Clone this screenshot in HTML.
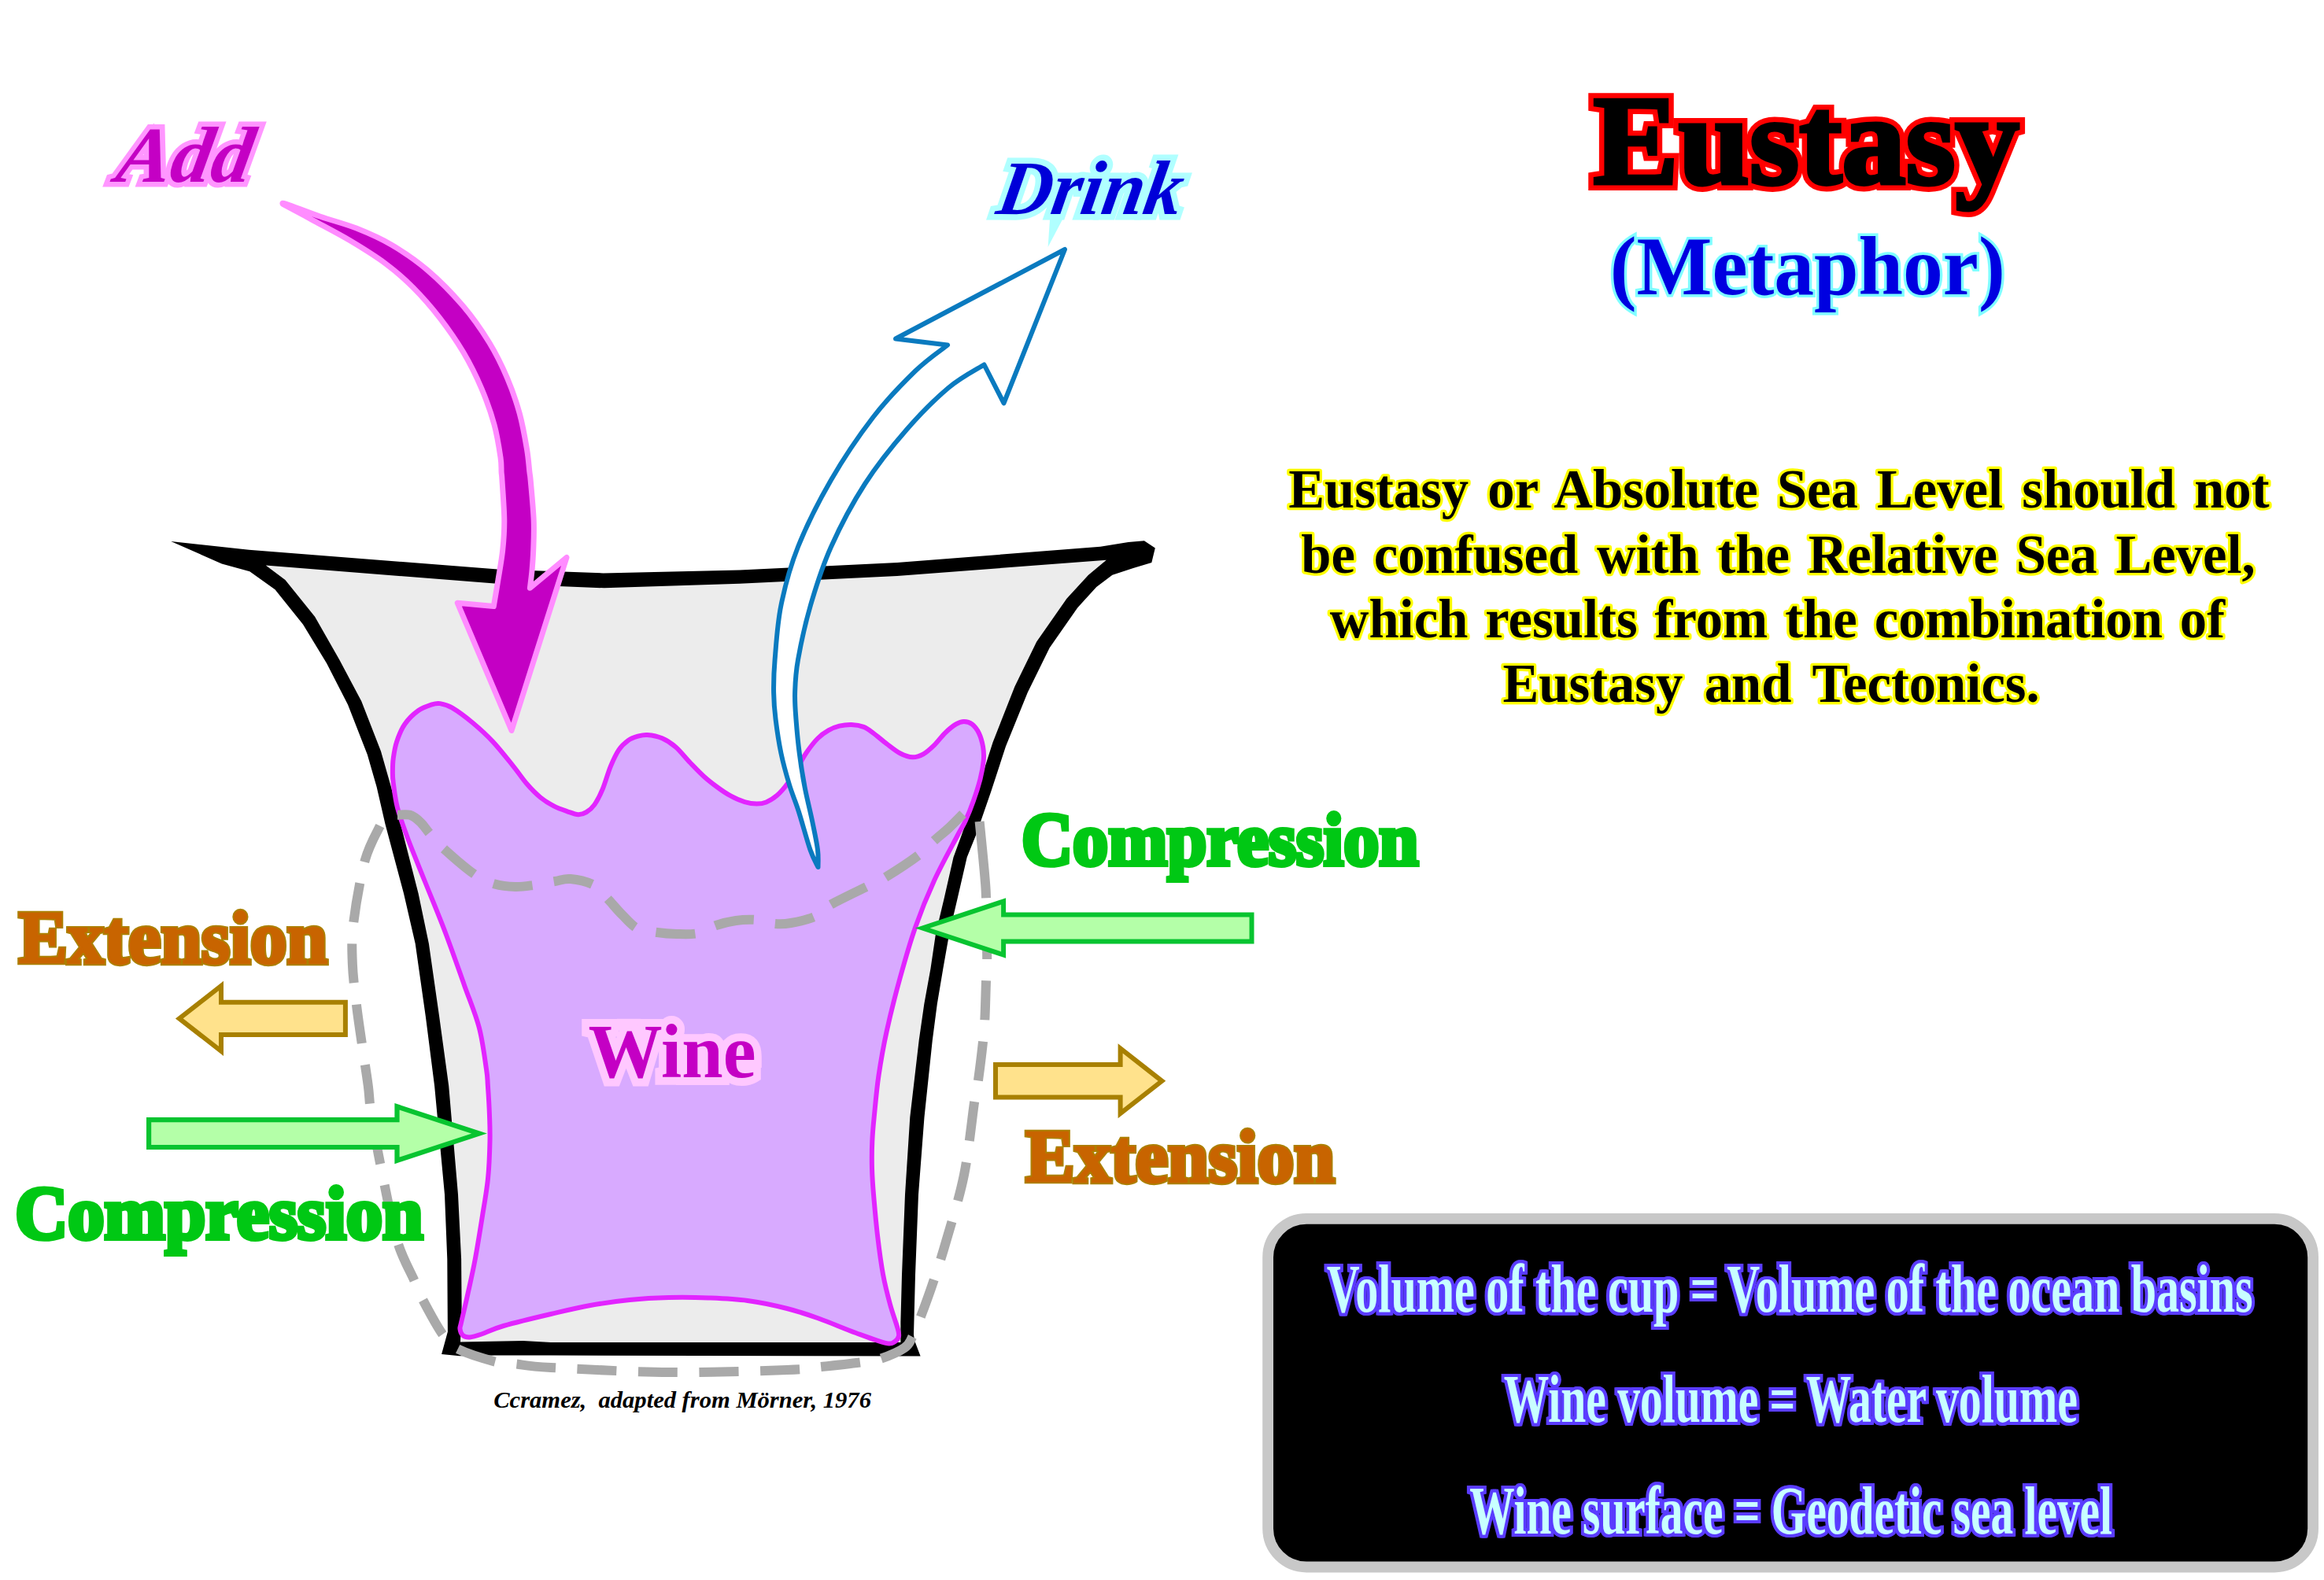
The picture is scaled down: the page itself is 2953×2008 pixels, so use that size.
<!DOCTYPE html>
<html><head><meta charset="utf-8"><title>Eustasy (Metaphor)</title>
<style>
html,body{margin:0;padding:0;background:#fff;}
body{width:2953px;height:2008px;overflow:hidden;font-family:"Liberation Serif",serif;}
svg{display:block;}
svg text{font-family:"Liberation Serif",serif;font-weight:bold;}
</style></head><body>
<svg width="2953" height="2008" viewBox="0 0 2953 2008">
<defs>
<filter id="glow" x="-2%" y="-20%" width="104%" height="140%"><feGaussianBlur in="SourceGraphic" stdDeviation="0.7"/></filter>
</defs>
<rect width="2953" height="2008" fill="#fff"/>

<path d="M217.2 688.0 L316.2 698.7 L632.4 723.5 L766.6 728.4 L940.0 724.6 L1140.0 715.0 L1398.2 694.8 L1433.7 689.0 L1453.9 687.2 L1467.8 696.6 L1463.3 715.0 L1440.0 721.9 L1413.4 730.8 L1393.2 745.9 L1369.1 772.5 L1333.7 823.2 L1305.8 880.1 L1278.0 948.5 L1259.0 1006.7 L1240.6 1060.0 L1228.7 1089.5 L1216.6 1142.0 L1206.3 1185.9 L1198.4 1230.8 L1190.8 1276.0 L1184.8 1321.9 L1174.5 1419.8 L1167.0 1518.0 L1163.0 1620.0 L1161.0 1696.0 L1162.0 1703.5 L1169.6 1723.5 L700.0 1722.6 L629.1 1722.6 L583.9 1723.2 L561.1 1721.0 L568.9 1692.5 L568.3 1600.0 L565.0 1518.0 L552.1 1380.0 L540.9 1292.3 L527.7 1199.2 L513.0 1135.4 L489.6 1047.7 L478.6 1000.0 L466.8 959.0 L442.0 895.6 L415.1 842.9 L385.0 793.4 L349.5 749.3 L317.3 726.3 L281.8 716.4 Z" fill="#000"/>
<path d="M337.7 718.5 L631.4 741.8 L767.8 747.3 L940.0 741.8 L1140.0 732.0 L1405.8 711.8 L1383.0 730.8 L1355.2 761.1 L1317.2 815.6 L1289.4 872.5 L1261.5 943.4 L1241.3 1006.7 L1228.6 1042.0 L1222.3 1060.0 L1211.5 1089.5 L1199.6 1142.0 L1189.1 1185.9 L1182.5 1230.8 L1174.3 1276.0 L1167.7 1321.9 L1156.3 1419.8 L1150.0 1518.0 L1146.0 1620.0 L1144.4 1680.0 L1144.4 1705.9 L700.0 1706.0 L664.6 1704.1 L585.0 1705.4 L586.6 1660.0 L586.1 1600.0 L582.0 1518.0 L570.2 1380.0 L558.2 1292.3 L544.9 1199.2 L531.6 1135.4 L507.7 1042.4 L496.9 1000.0 L484.0 954.8 L459.3 891.3 L431.3 838.6 L400.1 783.7 L362.4 737.0 Z" fill="#ececec"/>
<path d="M498.9 980.5 C498.9 975.3 498.9 969.6 499.8 963.3 C500.7 957.0 501.7 949.8 504.1 942.6 C506.5 935.4 509.8 926.8 514.4 920.2 C519.0 913.6 525.9 907.1 531.6 903.0 C537.3 898.9 544.2 896.8 548.8 895.3 C553.4 893.8 554.9 893.4 559.2 894.1 C563.5 894.8 567.8 895.5 574.7 899.6 C581.6 903.7 591.9 911.3 600.5 918.5 C609.1 925.7 617.7 933.4 626.3 942.6 C634.9 951.8 644.9 964.7 652.1 973.6 C659.3 982.5 663.6 989.4 669.3 996.0 C675.0 1002.6 680.8 1008.5 686.5 1013.2 C692.2 1017.9 698.0 1021.4 703.7 1024.4 C709.5 1027.4 715.8 1029.5 721.0 1031.3 C726.2 1033.1 730.7 1035.1 734.7 1035.2 C738.7 1035.3 741.7 1034.2 745.1 1032.1 C748.5 1030.0 752.0 1027.5 755.4 1022.6 C758.8 1017.7 762.3 1011.1 765.7 1002.9 C769.1 994.7 772.5 981.9 776.0 973.6 C779.5 965.3 782.7 958.4 786.4 952.9 C790.1 947.4 794.4 943.8 798.4 940.9 C802.4 938.0 806.5 936.9 810.5 935.7 C814.5 934.6 817.4 933.6 822.5 934.0 C827.6 934.4 835.4 935.7 841.4 938.3 C847.4 940.9 852.7 944.3 858.7 949.5 C864.7 954.7 871.2 963.3 877.2 969.5 C883.2 975.7 888.7 981.5 894.4 986.7 C900.1 991.9 905.9 996.3 911.6 1000.5 C917.3 1004.7 923.0 1008.6 928.8 1011.7 C934.5 1014.8 940.6 1017.5 946.1 1019.1 C951.6 1020.7 956.9 1021.5 961.5 1021.5 C966.1 1021.5 969.3 1021.2 973.6 1019.4 C977.9 1017.6 982.8 1014.8 987.4 1010.8 C992.0 1006.8 996.5 1001.6 1001.1 995.3 C1005.7 989.0 1010.9 979.5 1014.9 972.9 C1018.9 966.3 1021.2 961.4 1025.2 955.7 C1029.2 950.0 1034.4 943.1 1039.0 938.5 C1043.6 933.9 1048.2 930.8 1052.8 928.2 C1057.4 925.6 1061.6 923.9 1066.5 922.7 C1071.4 921.5 1076.8 920.8 1082.0 921.0 C1087.2 921.2 1092.9 922.1 1097.5 923.9 C1102.1 925.7 1104.7 928.0 1109.6 931.6 C1114.5 935.2 1121.1 941.1 1126.8 945.4 C1132.5 949.7 1138.5 954.7 1144.0 957.5 C1149.5 960.3 1154.6 962.2 1159.5 962.3 C1164.4 962.4 1168.7 960.8 1173.3 958.3 C1177.9 955.8 1182.4 951.5 1187.0 947.1 C1191.6 942.7 1196.2 936.1 1200.8 931.6 C1205.4 927.1 1210.6 922.8 1214.6 920.4 C1218.6 918.0 1221.5 917.0 1224.9 917.0 C1228.3 917.0 1232.1 918.0 1235.2 920.4 C1238.3 922.8 1241.5 926.9 1243.8 931.6 C1246.1 936.3 1248.0 943.0 1249.0 948.8 C1250.0 954.5 1250.4 959.2 1249.8 966.1 C1249.2 973.0 1247.7 981.6 1245.5 990.2 C1243.3 998.8 1240.1 1008.8 1236.9 1017.7 C1233.8 1026.6 1230.0 1036.1 1226.6 1043.5 C1223.2 1050.9 1223.2 1049.4 1216.6 1062.0 C1210.0 1074.6 1195.9 1099.8 1187.0 1119.2 C1178.1 1138.6 1170.3 1157.9 1163.1 1178.4 C1155.9 1198.9 1149.9 1220.2 1143.8 1242.2 C1137.7 1264.2 1131.3 1289.6 1126.7 1310.5 C1122.1 1331.4 1119.1 1349.3 1116.4 1367.5 C1113.7 1385.7 1112.1 1406.0 1110.7 1419.8 C1109.3 1433.5 1108.8 1439.1 1108.3 1450.0 C1107.8 1460.9 1107.7 1473.7 1108.0 1485.0 C1108.3 1496.3 1108.8 1503.8 1110.0 1518.0 C1111.2 1532.2 1113.0 1553.0 1115.0 1570.0 C1117.0 1587.0 1119.4 1605.3 1122.1 1620.0 C1124.8 1634.7 1128.0 1646.6 1131.1 1658.0 C1134.2 1669.4 1138.8 1681.6 1140.6 1688.3 C1142.4 1695.0 1142.6 1695.2 1142.0 1698.0 C1141.4 1700.8 1139.8 1703.5 1137.0 1705.0 C1134.2 1706.5 1133.7 1708.7 1125.4 1706.9 C1117.2 1705.1 1101.7 1699.2 1087.5 1694.0 C1073.3 1688.8 1054.6 1680.7 1040.0 1675.5 C1025.4 1670.3 1015.0 1666.8 1000.0 1663.0 C985.0 1659.2 966.7 1655.2 950.0 1653.0 C933.3 1650.8 916.7 1650.2 900.0 1649.5 C883.3 1648.8 866.7 1648.6 850.0 1649.0 C833.3 1649.4 816.7 1650.3 800.0 1652.0 C783.3 1653.7 766.7 1656.0 750.0 1659.0 C733.3 1662.0 718.4 1665.7 700.0 1670.0 C681.6 1674.3 654.6 1680.8 639.9 1685.0 C625.2 1689.2 619.2 1693.1 612.0 1695.5 C604.8 1697.9 600.8 1699.2 596.8 1699.5 C592.8 1699.8 590.0 1698.8 588.0 1697.0 C586.0 1695.2 584.8 1691.7 584.5 1689.0 C584.2 1686.3 584.4 1688.4 586.1 1680.7 C587.8 1673.0 591.8 1656.5 594.7 1643.0 C597.7 1629.5 600.8 1616.3 603.8 1600.0 C606.8 1583.7 610.3 1562.0 613.0 1545.0 C615.7 1528.0 618.4 1513.8 620.0 1498.0 C621.6 1482.2 622.2 1463.3 622.5 1450.0 C622.8 1436.7 622.4 1429.7 622.0 1418.0 C621.6 1406.3 620.6 1389.9 619.9 1380.0 C619.2 1370.1 619.9 1371.1 618.0 1358.7 C616.1 1346.3 613.4 1323.3 608.7 1305.6 C604.1 1287.9 597.2 1272.3 590.1 1252.4 C583.0 1232.5 574.6 1208.2 566.2 1186.0 C557.8 1163.8 547.6 1139.5 539.6 1119.5 C531.6 1099.5 524.2 1081.8 518.4 1066.3 C512.6 1050.8 508.1 1038.5 505.0 1026.5 C501.9 1014.5 500.7 1002.3 499.7 994.6 C498.7 986.9 498.9 985.7 498.9 980.5 Z" fill="#d8aaff" stroke="#e224ff" stroke-width="6" stroke-linejoin="round"/>
<path id="dinner" d="M505.0 1035.8 C507.7 1035.8 516.1 1034.3 521.0 1035.8 C525.9 1037.3 530.1 1041.0 534.3 1045.0 C538.5 1049.0 541.2 1053.9 546.3 1059.7 C551.4 1065.5 555.4 1071.0 564.9 1079.6 C574.4 1088.2 592.8 1104.2 603.4 1111.5 C614.0 1118.8 620.1 1120.9 628.7 1123.5 C637.3 1126.1 647.0 1126.8 655.0 1127.0 C663.0 1127.2 668.7 1126.2 677.0 1125.0 C685.3 1123.8 697.0 1121.3 705.0 1120.0 C713.0 1118.7 716.7 1116.2 725.0 1117.0 C733.3 1117.8 747.2 1120.8 755.0 1125.0 C762.8 1129.2 766.2 1135.8 772.0 1142.0 C777.8 1148.2 783.7 1155.7 790.0 1162.0 C796.3 1168.3 802.5 1176.2 810.0 1180.0 C817.5 1183.8 826.7 1183.8 835.0 1185.0 C843.3 1186.2 851.3 1186.8 860.0 1187.0 C868.7 1187.2 878.7 1187.8 887.0 1186.0 C895.3 1184.2 902.0 1178.7 910.0 1176.0 C918.0 1173.3 926.7 1171.2 935.0 1170.0 C943.3 1168.8 951.7 1168.3 960.0 1169.0 C968.3 1169.7 977.5 1173.3 985.0 1174.0 C992.5 1174.7 996.7 1174.5 1005.0 1173.0 C1013.3 1171.5 1026.7 1168.8 1035.0 1165.0 C1043.3 1161.2 1043.3 1156.7 1055.0 1150.0 C1066.7 1143.3 1093.3 1130.8 1105.0 1125.0 C1116.7 1119.2 1114.7 1121.3 1125.0 1115.0 C1135.3 1108.7 1156.5 1094.9 1167.0 1087.0 C1177.5 1079.1 1181.5 1073.3 1188.0 1067.5 C1194.5 1061.7 1200.1 1057.5 1206.0 1052.0 C1211.9 1046.5 1220.6 1037.5 1223.5 1034.6" fill="none" stroke="#a9a9a9" stroke-width="12" stroke-dasharray="50 27.5"/>
<path id="douter" d="M1244.6 1044.0 C1245.0 1048.0 1246.2 1060.1 1247.0 1068.0 C1247.8 1075.9 1248.5 1083.5 1249.3 1091.5 C1250.0 1099.5 1250.9 1107.8 1251.5 1116.0 C1252.1 1124.2 1252.5 1124.0 1253.0 1140.8 C1253.5 1157.6 1254.2 1199.4 1254.2 1217.1 C1254.2 1234.8 1253.5 1233.4 1253.0 1246.7 C1252.5 1260.0 1252.0 1283.9 1251.3 1296.8 C1250.6 1309.7 1250.4 1311.3 1249.0 1324.2 C1247.6 1337.1 1244.6 1361.8 1242.8 1374.3 C1241.0 1386.8 1241.3 1379.5 1238.3 1399.3 C1235.3 1419.1 1231.0 1463.2 1225.0 1493.0 C1219.0 1522.8 1208.4 1555.7 1202.0 1578.0 C1195.6 1600.3 1192.0 1610.7 1186.7 1626.6 C1181.4 1642.5 1174.6 1661.1 1170.0 1673.2 C1165.4 1685.3 1162.6 1692.7 1159.1 1699.3 C1155.6 1705.9 1155.9 1708.4 1149.2 1713.0 C1142.5 1717.6 1128.2 1723.7 1118.8 1726.8 C1109.4 1729.9 1105.5 1729.8 1092.7 1731.5 C1079.9 1733.2 1057.4 1735.6 1041.9 1737.2 C1026.5 1738.8 1032.0 1739.9 1000.0 1741.0 C968.0 1742.1 900.0 1744.5 850.0 1744.0 C800.0 1743.5 732.5 1739.8 700.0 1738.0 C667.5 1736.2 666.6 1734.6 654.9 1733.4 C643.2 1732.2 642.0 1733.9 629.6 1730.7 C617.2 1727.5 591.9 1719.8 580.7 1714.0 C569.5 1708.2 569.7 1706.2 562.4 1695.8 C555.1 1685.4 543.1 1663.0 537.1 1651.6 C531.1 1640.2 531.8 1639.7 526.4 1627.4 C521.0 1615.1 511.6 1599.6 505.0 1578.0 C498.4 1556.4 492.5 1524.7 487.0 1498.0 C481.5 1471.3 475.2 1437.7 472.0 1418.0 C468.8 1398.3 469.8 1395.2 467.8 1380.0 C465.8 1364.8 462.3 1343.6 459.9 1326.8 C457.5 1310.0 455.2 1295.8 453.2 1279.0 C451.2 1262.2 448.6 1243.5 447.9 1225.8 C447.2 1208.1 446.5 1194.8 449.2 1172.7 C451.9 1150.6 458.1 1113.8 463.9 1093.0 C469.7 1072.2 480.5 1055.2 483.8 1047.7" fill="none" stroke="#a9a9a9" stroke-width="12" stroke-dasharray="97.7 27.5 50 27.5 50 27.5 50 27.5 50 27.5 50 27.5 50 27.5 50 27.5 50 27.5 50 27.5 50 27.5 50 27.5 50 27.5 50 27.5 50 27.5 50 27.5 50 27.5 50 27.5 50 27.5 50 27.5 50 27.5 50 27.5 50 27.5 50 27.5 50 27.5 50 27.5 50 27.5 50 27.5 50 27.5 50 27.5 50 27.5 50 27.5 50 27.5 50 27.5 50 27.5"/>
<path d="M359.5 259.4 C360.2 259.4 355.9 256.8 363.9 259.4 C371.8 262.0 392.4 270.2 407.2 275.3 C422.0 280.4 437.7 284.1 452.8 290.1 C467.9 296.1 482.7 302.5 497.7 311.3 C512.7 320.1 527.8 330.2 542.8 343.0 C557.8 355.8 574.7 372.9 587.9 388.3 C601.1 403.7 612.3 420.1 621.8 435.5 C631.2 450.9 638.2 465.6 644.6 480.6 C651.0 495.6 656.1 510.7 660.3 525.7 C664.4 540.7 667.4 558.4 669.5 570.8 C671.6 583.2 672.1 593.4 672.9 600.0 C673.7 606.6 673.3 600.4 674.2 610.6 C675.1 620.8 677.6 646.5 678.2 661.3 C678.8 676.1 678.1 688.6 677.7 699.2 C677.3 709.8 676.7 717.0 676.0 725.0 C675.3 733.0 673.8 743.6 673.4 747.3 L720.0 708.5 L650.0 928.5 L581.3 766.3 L627.3 770.6 C628.2 765.0 631.0 749.1 632.9 737.2 C634.8 725.3 637.4 711.9 638.7 699.2 C640.0 686.6 640.9 676.1 640.8 661.3 C640.7 646.5 638.6 620.8 638.0 610.6 C637.4 600.4 637.4 604.9 637.1 600.0 C636.8 595.1 637.5 591.4 636.0 581.3 C634.5 571.2 632.0 554.2 628.0 539.6 C624.0 525.0 618.3 508.9 611.8 493.6 C605.3 478.3 597.6 462.7 588.8 447.8 C580.0 432.9 569.7 418.1 559.0 404.3 C548.3 390.5 536.1 376.6 524.6 365.1 C513.1 353.6 503.5 345.1 490.1 335.2 C476.7 325.3 459.6 314.7 444.4 305.6 C429.2 296.5 412.9 288.3 398.8 280.6 C384.7 272.9 366.1 262.9 359.5 259.4 Z" fill="#c400c4" stroke="#ff8cff" stroke-width="7" stroke-linejoin="round"/>
<path d="M1039.5 1102.0 C1037.8 1098.3 1033.6 1091.8 1029.5 1080.0 C1025.4 1068.2 1019.3 1045.3 1014.9 1031.5 C1010.5 1017.7 1006.6 1009.3 1002.9 997.0 C999.2 984.7 995.4 971.3 992.5 957.5 C989.6 943.7 987.2 927.3 985.6 914.4 C984.0 901.5 983.3 892.6 983.1 880.0 C982.9 867.4 983.0 857.0 984.6 838.5 C986.2 820.0 987.6 792.9 992.5 769.0 C997.4 745.1 1003.4 721.5 1014.0 695.0 C1024.6 668.5 1040.1 637.5 1056.0 610.0 C1071.9 582.5 1091.8 553.1 1109.6 530.0 C1127.4 506.9 1147.3 486.8 1163.0 471.5 C1178.7 456.2 1197.2 444.0 1204.0 438.5 L1138.0 430.5 L1353.0 317.0 L1275.5 512.4 L1250.5 463.5 C1242.9 468.4 1221.4 479.2 1205.0 493.0 C1188.6 506.8 1169.7 525.7 1152.0 546.0 C1134.3 566.3 1115.0 590.2 1099.0 615.0 C1083.0 639.8 1067.5 669.3 1056.0 695.0 C1044.5 720.7 1037.0 745.1 1030.0 769.0 C1023.0 792.9 1017.3 820.0 1014.0 838.5 C1010.7 857.0 1010.5 867.4 1010.1 880.0 C1009.7 892.6 1010.5 901.5 1011.5 914.4 C1012.5 927.3 1013.9 943.1 1015.8 957.5 C1017.6 971.9 1019.9 986.2 1022.6 1000.5 C1025.3 1014.8 1029.4 1030.2 1032.1 1043.5 C1034.8 1056.8 1037.8 1070.2 1039.0 1080.0 C1040.2 1089.8 1039.4 1098.3 1039.5 1102.0 Z" fill="#fff" stroke="#0a7abf" stroke-width="6" stroke-linejoin="round"/>
<path d="M1590.5 1162.5 L1275.1 1162.5 L1275.1 1145.5 L1172.3 1179.5 L1275.1 1213.5 L1275.1 1196.5 L1590.5 1196.5 Z" fill="#b4ffa8" stroke="#08c430" stroke-width="6"/>
<path d="M189.1 1423.1999999999998 L504.5 1423.1999999999998 L504.5 1406.3 L608.9 1440.6 L504.5 1474.8999999999999 L504.5 1458.0 L189.1 1458.0 Z" fill="#b4ffa8" stroke="#08c430" stroke-width="6.2"/>
<path d="M1265 1353.1 L1423.6 1353.1 L1423.6 1332.3999999999999 L1476.4 1373.8 L1423.6 1415.2 L1423.6 1394.5 L1265 1394.5 Z" fill="#ffe28c" stroke="#a88000" stroke-width="6"/>
<path d="M438.9 1273.7 L281 1273.7 L281 1253.0 L227.8 1294.4 L281 1335.8000000000002 L281 1315.1000000000001 L438.9 1315.1000000000001 Z" fill="#ffe28c" stroke="#a88000" stroke-width="6"/>
<rect x="1611.1" y="1548.9" width="1328" height="442.6" rx="49" ry="49" fill="#000" stroke="#c8c8c8" stroke-width="13.8"/>
<path d="M1334 279 L1350 279 L1331.6 314 Z" fill="#b0ffff"/>
<rect x="784" y="1294.8" width="30" height="15" fill="#ffc8ff"/>
<text transform="translate(144.74 230.90) scale(1.0177 1) skewX(-10)" font-size="100.92" font-style="italic" xml:space="preserve" fill="#c400c4" stroke="#ff96ff" stroke-width="13" paint-order="stroke" stroke-linejoin="miter">Add</text>
<text transform="translate(1263.68 271.90) scale(0.9789 1) skewX(-10)" font-size="97.86" font-style="italic" xml:space="preserve" fill="#0000d8" stroke="#b0ffff" stroke-width="15" paint-order="stroke" stroke-linejoin="miter">Drink</text>
<text transform="translate(747.59 1369.00) scale(0.9601 1)" font-size="98.15" xml:space="preserve" fill="#c400c4" stroke="#ffc8ff" stroke-width="20" paint-order="stroke" stroke-linejoin="miter">Wine</text>
<text transform="translate(2024.57 233.10) scale(1.0019 1)" font-size="161.98" xml:space="preserve" fill="#ff0000" stroke="#ff0000" stroke-width="18" stroke-linejoin="miter">Eustasy</text>
<text transform="translate(2024.57 233.10) scale(1.0019 1)" font-size="161.98" xml:space="preserve" fill="#000" stroke="#000" stroke-width="5" stroke-linejoin="miter">Eustasy</text>
<text transform="translate(2045.73 373.70) scale(0.9654 1)" font-size="105.23" xml:space="preserve" fill="#0000e0" stroke="#80ffff" stroke-width="7" paint-order="stroke" stroke-linejoin="miter">(Metaphor)</text>
<text transform="translate(1637.27 645.30) scale(0.9950 1)" font-size="69.01" style="word-spacing:7.04px" xml:space="preserve" fill="#ffff00" stroke="#ffff00" stroke-width="6.6" stroke-linejoin="round" filter="url(#glow)">Eustasy or Absolute Sea Level should not</text>
<text transform="translate(1637.27 645.30) scale(0.9950 1)" font-size="69.01" style="word-spacing:7.04px" xml:space="preserve" fill="#000">Eustasy or Absolute Sea Level should not</text>
<text transform="translate(1653.37 727.50) scale(0.9950 1)" font-size="69.01" style="word-spacing:6.63px" xml:space="preserve" fill="#ffff00" stroke="#ffff00" stroke-width="6.6" stroke-linejoin="round" filter="url(#glow)">be confused with the Relative Sea Level,</text>
<text transform="translate(1653.37 727.50) scale(0.9950 1)" font-size="69.01" style="word-spacing:6.63px" xml:space="preserve" fill="#000">be confused with the Relative Sea Level,</text>
<text transform="translate(1689.86 810.20) scale(0.9950 1)" font-size="69.01" style="word-spacing:4.84px" xml:space="preserve" fill="#ffff00" stroke="#ffff00" stroke-width="6.6" stroke-linejoin="round" filter="url(#glow)">which results from the combination of</text>
<text transform="translate(1689.86 810.20) scale(0.9950 1)" font-size="69.01" style="word-spacing:4.84px" xml:space="preserve" fill="#000">which results from the combination of</text>
<text transform="translate(1909.47 892.00) scale(0.9950 1)" font-size="69.01" style="word-spacing:10.21px" xml:space="preserve" fill="#ffff00" stroke="#ffff00" stroke-width="6.6" stroke-linejoin="round" filter="url(#glow)">Eustasy and Tectonics.</text>
<text transform="translate(1909.47 892.00) scale(0.9950 1)" font-size="69.01" style="word-spacing:10.21px" xml:space="preserve" fill="#000">Eustasy and Tectonics.</text>
<text transform="translate(1684.40 1666.60) scale(0.6708 1)" font-size="86.50" xml:space="preserve" fill="#5a3cff" stroke="#5a3cff" stroke-width="8" stroke-linejoin="miter">Volume of the cup = Volume of the ocean basins</text>
<text transform="translate(1685.72 1666.60) scale(0.6708 1)" font-size="86.50" xml:space="preserve" fill="#5a3cff" stroke="#5a3cff" stroke-width="8" stroke-linejoin="miter">Volume of the cup = Volume of the ocean basins</text>
<text transform="translate(1687.04 1666.60) scale(0.6708 1)" font-size="86.50" xml:space="preserve" fill="#5a3cff" stroke="#5a3cff" stroke-width="8" stroke-linejoin="miter">Volume of the cup = Volume of the ocean basins</text>
<text transform="translate(1685.72 1666.60) scale(0.6708 1)" font-size="86.50" xml:space="preserve" fill="#c8ffff">Volume of the cup = Volume of the ocean basins</text>
<text transform="translate(1909.50 1806.50) scale(0.6652 1)" font-size="86.50" xml:space="preserve" fill="#5a3cff" stroke="#5a3cff" stroke-width="8" stroke-linejoin="miter">Wine volume = Water</text>
<text transform="translate(1910.84 1806.50) scale(0.6652 1)" font-size="86.50" xml:space="preserve" fill="#5a3cff" stroke="#5a3cff" stroke-width="8" stroke-linejoin="miter">Wine volume = Water</text>
<text transform="translate(1912.18 1806.50) scale(0.6652 1)" font-size="86.50" xml:space="preserve" fill="#5a3cff" stroke="#5a3cff" stroke-width="8" stroke-linejoin="miter">Wine volume = Water</text>
<text transform="translate(1910.84 1806.50) scale(0.6652 1)" font-size="86.50" xml:space="preserve" fill="#c8ffff">Wine volume = Water</text>
<text transform="translate(2458.58 1806.50) scale(0.6693 1)" font-size="86.50" xml:space="preserve" fill="#5a3cff" stroke="#5a3cff" stroke-width="8" stroke-linejoin="miter">volume</text>
<text transform="translate(2459.90 1806.50) scale(0.6693 1)" font-size="86.50" xml:space="preserve" fill="#5a3cff" stroke="#5a3cff" stroke-width="8" stroke-linejoin="miter">volume</text>
<text transform="translate(2461.22 1806.50) scale(0.6693 1)" font-size="86.50" xml:space="preserve" fill="#5a3cff" stroke="#5a3cff" stroke-width="8" stroke-linejoin="miter">volume</text>
<text transform="translate(2459.90 1806.50) scale(0.6693 1)" font-size="86.50" xml:space="preserve" fill="#c8ffff">volume</text>
<text transform="translate(1865.79 1949.00) scale(0.6632 1)" font-size="86.50" xml:space="preserve" fill="#5a3cff" stroke="#5a3cff" stroke-width="8" stroke-linejoin="miter">Wine surface = Geodetic sea level</text>
<text transform="translate(1867.14 1949.00) scale(0.6632 1)" font-size="86.50" xml:space="preserve" fill="#5a3cff" stroke="#5a3cff" stroke-width="8" stroke-linejoin="miter">Wine surface = Geodetic sea level</text>
<text transform="translate(1868.49 1949.00) scale(0.6632 1)" font-size="86.50" xml:space="preserve" fill="#5a3cff" stroke="#5a3cff" stroke-width="8" stroke-linejoin="miter">Wine surface = Geodetic sea level</text>
<text transform="translate(1867.14 1949.00) scale(0.6632 1)" font-size="86.50" xml:space="preserve" fill="#c8ffff">Wine surface = Geodetic sea level</text>
<text transform="translate(19.26 1574.10) scale(0.9651 1)" font-size="96.06" xml:space="preserve" fill="#00c814" stroke="#00c814" stroke-width="6" paint-order="stroke" stroke-linejoin="miter">Compression</text>
<text transform="translate(1297.99 1099.30) scale(0.9390 1)" font-size="96.06" xml:space="preserve" fill="#00c814" stroke="#00c814" stroke-width="6" paint-order="stroke" stroke-linejoin="miter">Compression</text>
<text transform="translate(23.69 1223.90) scale(0.9775 1)" font-size="95.11" xml:space="preserve" fill="#ac8000" stroke="#ac8000" stroke-width="6.4" stroke-linejoin="miter">Extension</text>
<text transform="translate(23.69 1223.90) scale(0.9775 1)" font-size="95.11" xml:space="preserve" fill="#c86400" stroke="#c86400" stroke-width="2.6" stroke-linejoin="miter">Extension</text>
<text transform="translate(1303.28 1502.10) scale(0.9825 1)" font-size="94.66" xml:space="preserve" fill="#ac8000" stroke="#ac8000" stroke-width="6.4" stroke-linejoin="miter">Extension</text>
<text transform="translate(1303.28 1502.10) scale(0.9825 1)" font-size="94.66" xml:space="preserve" fill="#c86400" stroke="#c86400" stroke-width="2.6" stroke-linejoin="miter">Extension</text>
<text transform="translate(627.23 1788.50) scale(1.0331 1)" font-size="29.60" font-style="italic" xml:space="preserve" fill="#000">Ccramez,  adapted from Mörner, 1976</text>
</svg></body></html>
